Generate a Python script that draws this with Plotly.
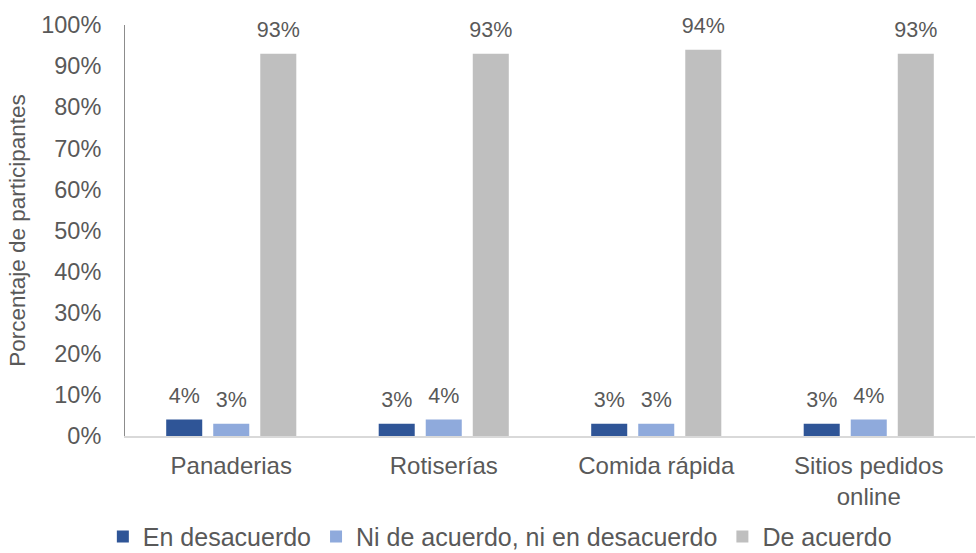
import plotly.graph_objects as go

# Categories and share of participants per response level
categorias = ["Panaderias", "Rotiserías", "Comida rápida", "Sitios pedidos<br>online"]
en_desacuerdo = [0.04, 0.03, 0.03, 0.03]
ni_ni = [0.03, 0.04, 0.03, 0.04]
de_acuerdo = [0.93, 0.93, 0.94, 0.93]

series = [
    ("En desacuerdo", en_desacuerdo, "#2F5597"),
    ("Ni de acuerdo, ni en desacuerdo", ni_ni, "#8FAADC"),
    ("De acuerdo", de_acuerdo, "#BFBFBF"),
]

FONT = "Liberation Sans, Arial, sans-serif"
TXT = "#595959"
GAP = 0.336

fig = go.Figure()
for nombre, valores, color in series:
    fig.add_trace(go.Bar(
        name=nombre,
        x=categorias,
        y=valores,
        marker=dict(color=color, line=dict(width=0)),
        hoverinfo="x+y+name",
    ))

# Value labels above each bar, grouped the same way as the bars
for nombre, valores, color in series:
    fig.add_trace(go.Scatter(
        x=categorias,
        y=valores,
        mode="markers+text",
        marker=dict(size=16, color="rgba(0,0,0,0)"),
        text=[f"{v:.0%}" for v in valores],
        textposition="top center",
        textfont=dict(family=FONT, size=21.5, color=TXT),
        showlegend=False,
        hoverinfo="skip",
        cliponaxis=False,
    ))

fig.update_layout(
    width=976,
    height=553,
    margin=dict(l=125, r=1, t=25, b=117, autoexpand=False),
    paper_bgcolor="white",
    plot_bgcolor="white",
    barmode="group",
    bargap=GAP,
    bargroupgap=0.234,
    scattermode="group",
    scattergap=GAP,
    font=dict(family=FONT, color=TXT, size=22),
    showlegend=True,
    legend=dict(
        orientation="h",
        x=0.441,
        xanchor="center",
        xref="paper",
        y=-0.245,
        yanchor="middle",
        font=dict(family=FONT, size=25, color=TXT),
        itemwidth=30,
        itemclick=False,
    ),
)

fig.update_yaxes(
    range=[0, 1],
    tickvals=[i / 10 for i in range(11)],
    tickformat=".0%",
    showgrid=False,
    zeroline=False,
    showline=True,
    linecolor="#8C8C8C",
    linewidth=1,
    ticks="",
    ticklabelstandoff=18,
    automargin=False,
    tickfont=dict(family=FONT, size=23.5, color=TXT),
    title=dict(text="Porcentaje de participantes", font=dict(family=FONT, size=22.5, color=TXT), standoff=9),
)
fig.update_xaxes(
    showgrid=False,
    showline=True,
    linecolor="#D9D9D9",
    linewidth=1.5,
    ticks="",
    ticklabelstandoff=7,
    automargin=False,
    tickfont=dict(family=FONT, size=24, color=TXT),
)

fig.write_html("out.html")
